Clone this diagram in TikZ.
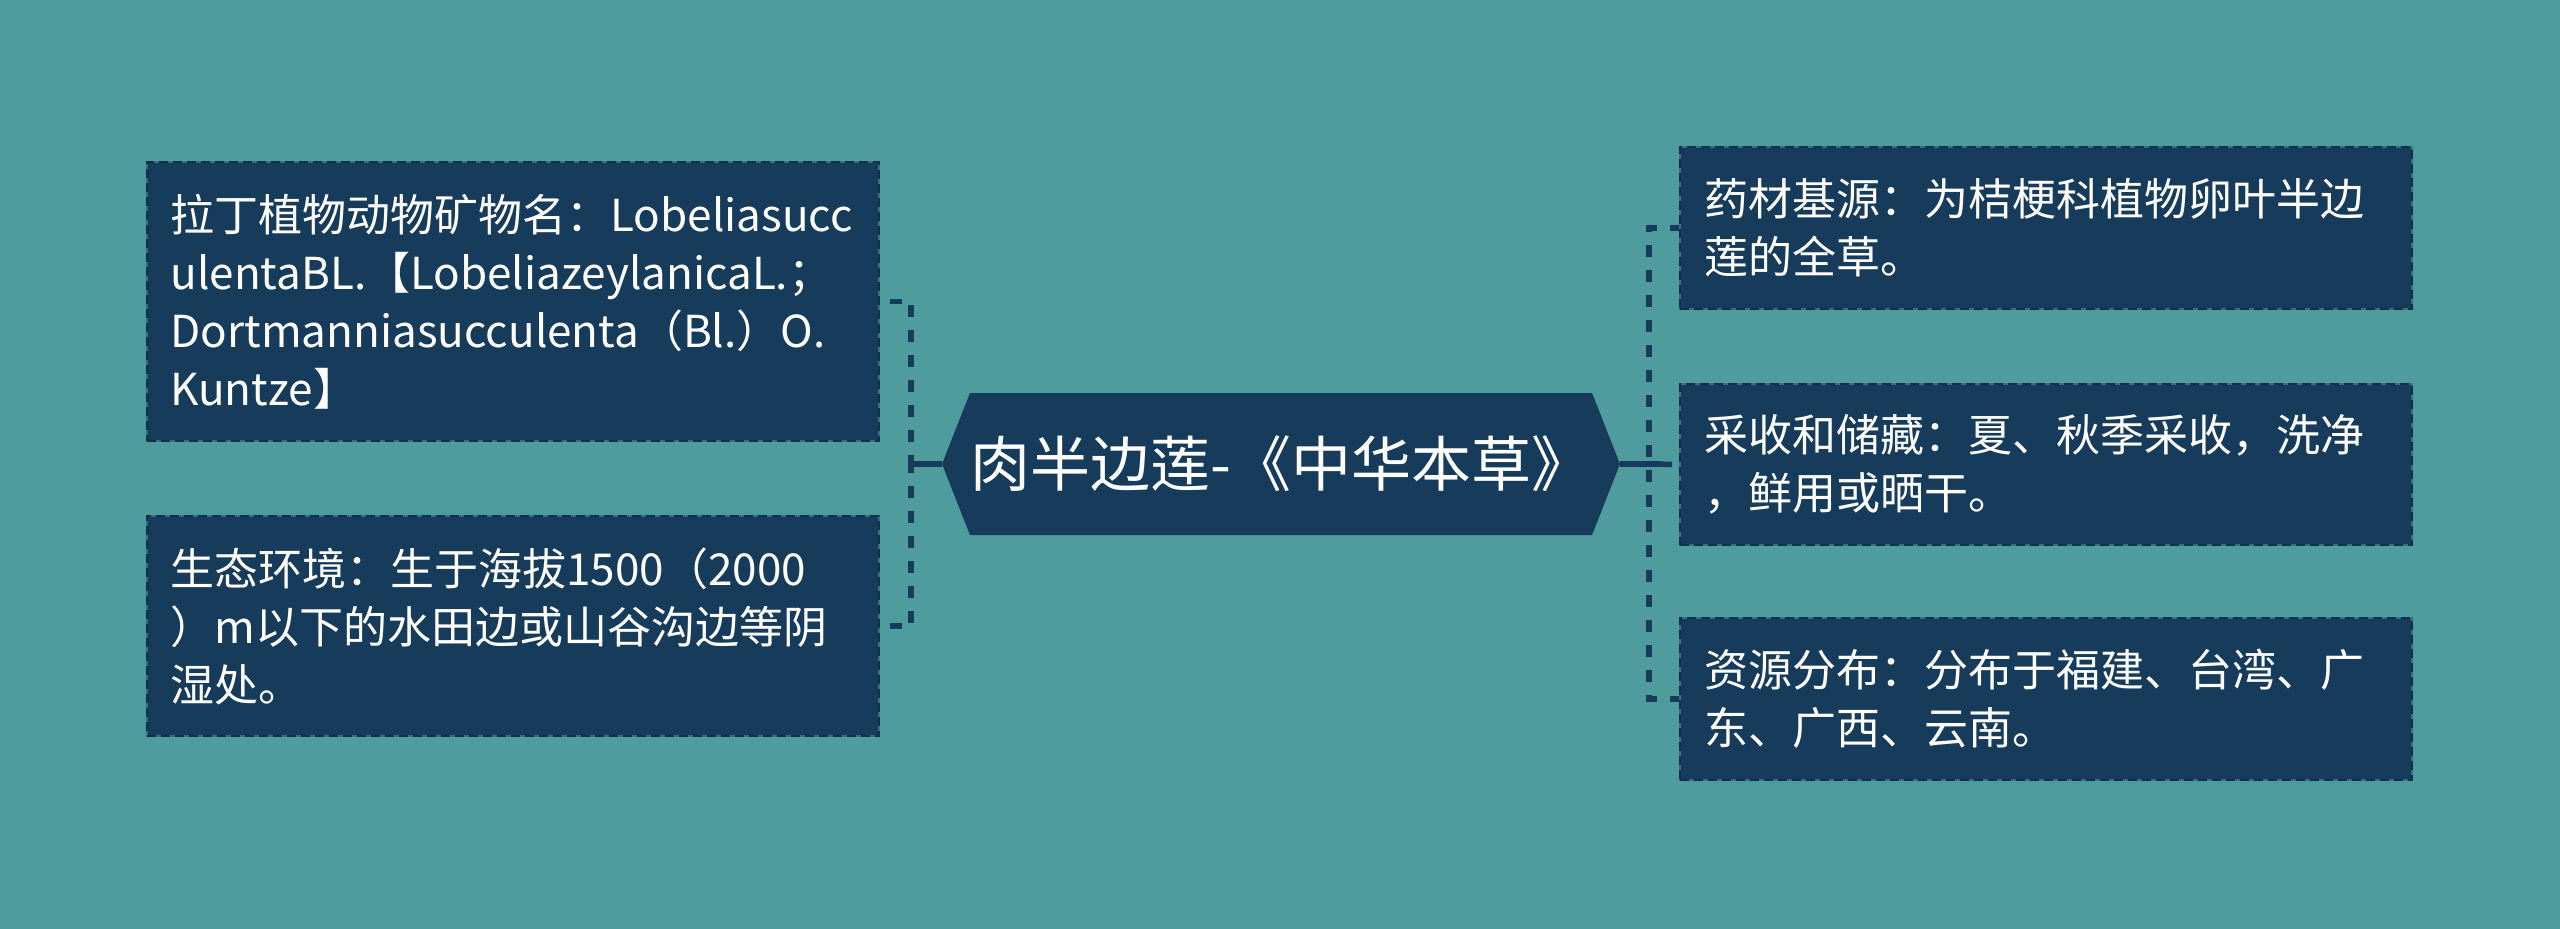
\documentclass[tikz,border=0pt]{standalone}
\usepackage{fontspec}
\setmainfont{Noto Sans CJK SC}
\usetikzlibrary{shapes.symbols}
\definecolor{bg}{HTML}{4E9C9D}
\definecolor{navy}{HTML}{173C5B}
\definecolor{navyedge}{HTML}{10304C}
\tikzset{
  leaf/.style={rectangle, fill=navy, draw=bg!55!navy, line width=2pt,
    postaction={draw=navyedge, line width=2pt, dash pattern=on 9pt off 5pt},
    text=white, align=left, inner xsep=24pt, inner ysep=0pt,
    minimum width=732pt, text width=684pt,
    font=\fontsize{44}{58}\selectfont},
  hub/.style={signal, signal to=west and east, signal pointer angle=137,
    fill=navy, text=white, inner sep=0pt, minimum width=678pt, minimum height=142pt,
    font=\fontsize{60}{66}\selectfont},
  conn/.style={draw=navy, line width=5.5pt, dash pattern=on 12pt off 13pt},
  stem/.style={draw=navy, line width=5.5pt},
}
\begin{document}
\begin{tikzpicture}[x=1pt,y=-1pt]
\fill[bg] (0,0) rectangle (2560,929);
\useasboundingbox (0,0) rectangle (2560,929);

\node[hub] (c) at (1281,464) {肉半边莲-《中华本草》};

\node[leaf, minimum height=279pt] (L1) at (512.5,301.5) {拉丁植物动物矿物名：Lobeliasucc\\ulentaBL.【LobeliazeylanicaL.；\\Dortmanniasucculenta（Bl.）O.\\Kuntze】};
\node[leaf, minimum height=220pt] (L2) at (512.5,626) {生态环境：生于海拔1500（2000\\）m以下的水田边或山谷沟边等阴\\湿处。};

\node[leaf, minimum height=162pt] (R1) at (2046,228) {药材基源：为桔梗科植物卵叶半边\\莲的全草。};
\node[leaf, minimum height=161pt] (R2) at (2046,464.5) {采收和储藏：夏、秋季采收，洗净\\，鲜用或晒干。};
\node[leaf, minimum height=162pt] (R3) at (2046,699) {资源分布：分布于福建、台湾、广\\东、广西、云南。};

\coordinate (ls) at (911,464);
\coordinate (rs) at (1649,464);

\draw[stem] (c.west) -- (ls);
\draw[stem] (c.east) -- ([xshift=12pt]rs);
\draw[conn, dash phase=15pt] (L1.east) -| (ls);
\draw[conn, dash phase=15pt] (L2.east) -| (ls);
\draw[conn, dash phase=3pt] (R1.west) -| (rs);
\draw[conn, dash phase=3pt] (R3.west) -| (rs);
\draw[conn, dash phase=18pt] (R2.west) -- (rs);
\end{tikzpicture}
\end{document}
